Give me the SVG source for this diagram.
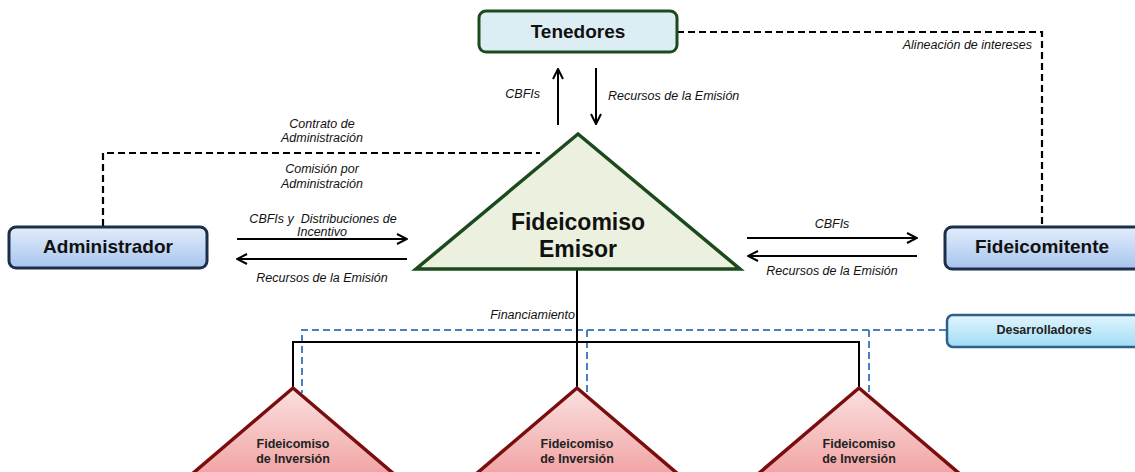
<svg xmlns="http://www.w3.org/2000/svg" width="1135" height="472" viewBox="0 0 1135 472">
<defs>
<linearGradient id="gBlue" x1="0" y1="0" x2="0" y2="1"><stop offset="0" stop-color="#e3edfb"/><stop offset="1" stop-color="#a7c4ee"/></linearGradient>
<linearGradient id="gCyan" x1="0" y1="0" x2="0" y2="1"><stop offset="0" stop-color="#e2f5fd"/><stop offset="1" stop-color="#9fdcf5"/></linearGradient>
<linearGradient id="gRed" x1="0" y1="0" x2="0" y2="1"><stop offset="0" stop-color="#fbe0e0"/><stop offset="1" stop-color="#f0a0a0"/></linearGradient>
<marker id="ah" viewBox="0 0 12 12" refX="11" refY="6" markerWidth="12" markerHeight="12" markerUnits="userSpaceOnUse" orient="auto"><path d="M1,1 L11,6 L1,11" fill="none" stroke="#000" stroke-width="2"/></marker>
<style>
.lbl{font-family:"Liberation Sans",Arial,sans-serif;font-style:italic;font-size:12.5px;fill:#111;white-space:pre}
.big{font-family:"Liberation Sans",Arial,sans-serif;font-weight:bold;font-size:19px;fill:#111;text-anchor:middle}
.sm{font-family:"Liberation Sans",Arial,sans-serif;font-weight:bold;font-size:12.5px;fill:#222;text-anchor:middle}
.arr{stroke:#000;stroke-width:2;fill:none;marker-end:url(#ah)}
.dash{stroke:#000;stroke-width:2.2;fill:none;stroke-dasharray:7 4}
.bdash{stroke:#4a7ec2;stroke-width:2;fill:none;stroke-dasharray:7 4}
.solid{stroke:#000;stroke-width:2;fill:none}
.box{fill:url(#gBlue);stroke:#1c2f4a;stroke-width:3}
.tri{fill:url(#gRed);stroke:#7a0e0e;stroke-width:3.5;stroke-linejoin:miter}
</style>
</defs>
<g id="connectors">
<path class="dash" d="M677,32 H1042 V227"/>
<path class="dash" d="M103,226 V153 H540"/>
<line class="arr" x1="558" y1="125" x2="558" y2="69"/>
<line class="arr" x1="596" y1="68" x2="596" y2="124"/>
<line class="arr" x1="237" y1="239" x2="407" y2="239"/>
<line class="arr" x1="407" y1="259" x2="237" y2="259"/>
<line class="arr" x1="747" y1="238" x2="917" y2="238"/>
<line class="arr" x1="917" y1="256" x2="748" y2="256"/>
<path class="bdash" d="M946,330 H302 V393"/>
<path class="bdash" d="M587,330 V393"/>
<path class="bdash" d="M869,330 V393"/>
<path class="solid" d="M577,270 V388"/>
<path class="solid" d="M293,388 V342 H859 V388"/>
<text class="lbl" x="540" y="98" text-anchor="end">CBFIs</text>
<text class="lbl" x="608" y="100">Recursos de la Emisión</text>
<text class="lbl" x="1032" y="49" text-anchor="end">Alineación de intereses</text>
<text class="lbl" x="322" y="128" text-anchor="middle">Contrato de</text>
<text class="lbl" x="322" y="142" text-anchor="middle">Administración</text>
<text class="lbl" x="322" y="173" text-anchor="middle">Comisión por</text>
<text class="lbl" x="322" y="188" text-anchor="middle">Administración</text>
<text class="lbl" x="323" y="223" text-anchor="middle">CBFIs y  Distribuciones de</text>
<text class="lbl" x="322" y="236" text-anchor="middle">Incentivo</text>
<text class="lbl" x="322" y="282" text-anchor="middle">Recursos de la Emisión</text>
<text class="lbl" x="832" y="228" text-anchor="middle">CBFIs</text>
<text class="lbl" x="832" y="275" text-anchor="middle">Recursos de la Emisión</text>
<text class="lbl" x="575" y="319" text-anchor="end">Financiamiento</text>
</g>
<g id="tenedores">
<rect x="479" y="11" width="198" height="41" rx="7" fill="#dceef4" stroke="#1c4a1c" stroke-width="3"/>
<text class="big" x="578" y="38">Tenedores</text>
</g>
<g id="fideicomiso-emisor">
<polygon points="578,134 416,269 740,269" fill="#ebf1de" stroke="#1c4a1c" stroke-width="3.5"/>
<text class="big" x="578" y="230" style="font-size:23px">Fideicomiso</text>
<text class="big" x="578" y="257" style="font-size:23px">Emisor</text>
</g>
<g id="administrador">
<rect x="9" y="227" width="198" height="41" rx="7" class="box"/>
<text class="big" x="108" y="253">Administrador</text>
</g>
<g id="fideicomitente">
<rect x="945" y="227" width="200" height="42" rx="7" class="box"/>
<text class="big" x="1042" y="253">Fideicomitente</text>
</g>
<g id="desarrolladores">
<rect x="947" y="315" width="200" height="32" rx="6" fill="url(#gCyan)" stroke="#2e5f8f" stroke-width="2.5"/>
<text class="sm" x="1044" y="334">Desarrolladores</text>
</g>
<g id="fideicomiso-inversion-1">
<polygon class="tri" points="293,388 185,480 401,480"/>
<text class="sm" x="293" y="448">Fideicomiso</text>
<text class="sm" x="293" y="463">de Inversión</text>
</g>
<g id="fideicomiso-inversion-2">
<polygon class="tri" points="577,388 469,480 685,480"/>
<text class="sm" x="577" y="448">Fideicomiso</text>
<text class="sm" x="577" y="463">de Inversión</text>
</g>
<g id="fideicomiso-inversion-3">
<polygon class="tri" points="859,388 751,480 967,480"/>
<text class="sm" x="859" y="448">Fideicomiso</text>
<text class="sm" x="859" y="463">de Inversión</text>
</g>
</svg>
